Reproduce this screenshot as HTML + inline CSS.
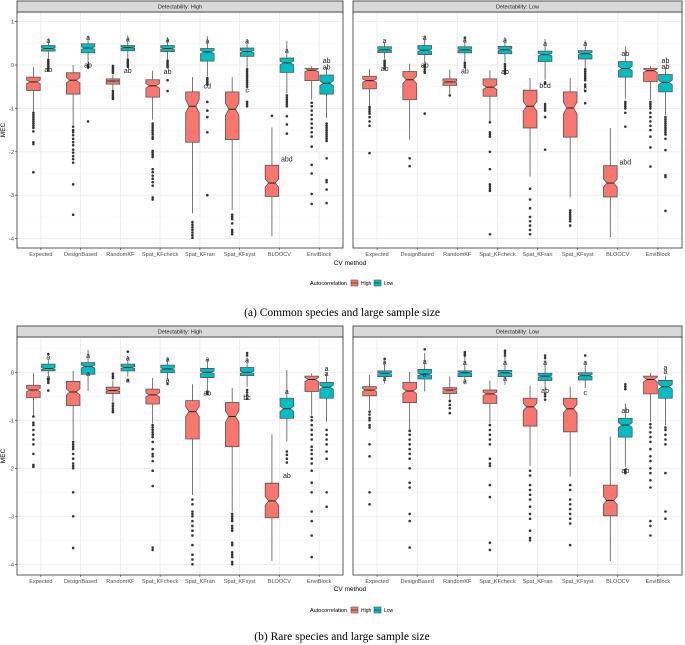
<!DOCTYPE html>
<html><head><meta charset="utf-8"><style>
html,body{margin:0;padding:0;background:#fff;}
svg{display:block;font-family:"Liberation Sans",sans-serif;}
.cap{font-family:"Liberation Serif",serif;font-size:11.5px;fill:#000;}
</style></head><body>
<svg id="chart" width="685" height="645" viewBox="0 0 685 645" xmlns="http://www.w3.org/2000/svg">
<g id="root"></g>
</svg>
<script>
const categories=["Expected","DesignBased","RandomKF","Spat_KFcheck","Spat_KFran","Spat_KFsyst","BLOOCV","EnviBlock"];
const groups=["High","Low"];
const yTicksTop=[1,0,-1,-2,-3,-4];
const yTicksBottom=[0,-1,-2,-3,-4];
// [whiskerLow,q1,median,q3,whiskerHigh]
const aHighHi=[[-1.07,-0.59,-0.39,-0.28,-0.05],[-1.38,-0.67,-0.35,-0.18,0],[-0.58,-0.44,-0.37,-0.32,-0.22],[-1.26,-0.74,-0.48,-0.34,-0.13],[-3.42,-1.78,-0.95,-0.62,-0.28],[-3.34,-1.72,-1.02,-0.62,-0.28],[-3.95,-3.03,-2.72,-2.31,-1.44],[-0.8,-0.36,-0.12,-0.08,-0.03]];
const aHighLo=[[0.16,0.32,0.38,0.45,0.62],[0.02,0.28,0.39,0.49,0.68],[0.14,0.33,0.4,0.45,0.68],[0.12,0.31,0.38,0.45,0.64],[-0.26,0.09,0.3,0.38,0.66],[-0.07,0.2,0.31,0.39,0.6],[-0.65,-0.17,0.05,0.16,0.55],[-1.22,-0.67,-0.42,-0.23,-0.05]];
const aHighHiOut=[[-1.1,-1.15,-1.2,-1.25,-1.3,-1.35,-1.4,-1.45,-1.53,-1.78,-1.82,-2.47],[-1.42,-1.5,-1.55,-1.62,-1.7,-1.78,-1.85,-1.95,-2.02,-2.1,-2.17,-2.25,-2.75,-3.45],[-0.02,-0.06,-0.1,-0.14,-0.18,-0.6,-0.65,-0.7,-0.74,-0.78],[-1.35,-1.4,-1.45,-1.5,-1.55,-1.6,-1.66,-1.7,-1.98,-2.02,-2.07,-2.12,-2.4,-2.47,-2.55,-2.62,-2.7,-2.78,-3.05,-3.1],[-3.62,-3.68,-3.74,-3.8,-3.86,-3.92,-3.98],[-3.45,-3.5,-3.55,-3.65,-3.8,-3.85,-3.9],[-1.17],[-0.87,-0.95,-1.05,-1.15,-1.25,-1.35,-1.45,-1.55,-1.65,-1.88,-2.3,-2.5,-2.97,-3.2]];
const aHighLoOut=[[0.12,0.08,0.04,0,-0.04,-0.08,-0.12],[0,-0.03,-0.06,-1.3],[0.12,0.08,0.04,0,-0.04],[0.1,0.06,0.02,-0.02,-0.05,-0.35,-0.6],[-0.3,-0.34,-0.38,-0.42,-0.45,-0.85,-1.05,-1.2,-1.55,-3.0],[-0.1,-0.15,-0.2,-0.25,-0.3,-0.35,-0.4,-0.45,-0.5,-0.85,-0.9,-0.95],[-0.7,-0.75,-0.8,-0.85,-0.9,-0.95,-1.18,-1.37,-1.58],[-1.35,-1.4,-1.45,-1.5,-1.55,-1.6,-1.65,-1.7,-1.75,-2.15,-2.65,-2.7,-2.87,-3.18]];
const aHighLabels=[[0,1,0.56,"a"],[0,1,-0.1,"ab"],[1,1,0.63,"a"],[1,1,0.0,"ab"],[2,1,0.6,"a"],[2,1,-0.13,"ab"],[3,1,0.58,"a"],[3,1,-0.15,"ab"],[4,1,0.55,"a"],[4,1,-0.48,"cd"],[5,1,0.55,"a"],[5,1,-0.58,"c"],[6,1,0.33,"a"],[6,1,-2.17,"abd"],[7,1,0.1,"ab"],[7,1,-0.05,"ab"]];

const aLowHi=[[-0.94,-0.55,-0.36,-0.26,-0.09],[-1.72,-0.8,-0.34,-0.15,0.03],[-0.68,-0.47,-0.39,-0.32,-0.11],[-1.3,-0.72,-0.51,-0.32,-0.12],[-2.57,-1.45,-0.95,-0.58,-0.3],[-3.05,-1.66,-0.99,-0.62,-0.3],[-3.97,-3.04,-2.72,-2.32,-1.45],[-0.8,-0.38,-0.13,-0.08,-0.03]];
const aLowLo=[[0.14,0.29,0.35,0.42,0.53],[0.03,0.24,0.34,0.45,0.68],[0.08,0.28,0.35,0.42,0.62],[0.06,0.26,0.35,0.43,0.64],[-0.34,0.08,0.24,0.32,0.6],[-0.11,0.14,0.26,0.33,0.57],[-0.78,-0.28,-0.08,0.08,0.43],[-1.15,-0.62,-0.4,-0.22,-0.05]];
const aLowHiOut=[[-0.97,-1.02,-1.07,-1.12,-1.2,-1.3,-1.4,-2.03],[-2.15,-2.33],[-0.7],[-1.32,-1.55,-1.6,-1.65,-2.0,-2.4,-2.75,-2.8,-2.85,-2.9,-3.9],[-2.85,-3.1,-3.3,-3.5,-3.6,-3.7,-3.8,-3.9],[-3.35,-3.4,-3.45,-3.5,-3.55,-3.6,-3.7],[],[-0.85,-0.9,-0.95,-1.0,-1.1,-1.2,-1.3,-1.4,-1.5,-1.65,-1.9,-2.34]];
const aLowLoOut=[[0.1,0.06,0.02,-0.02,-0.08],[0,-0.05,-0.1,-0.15,-0.18,-1.12],[0.63,0.05,0,-0.05],[0.02,-0.03,-0.08,-0.13,-0.18,-0.2],[-0.4,-0.43,-0.9,-0.95,-1.0,-1.05,-1.2,-1.95],[-0.1,-0.15,-0.2,-0.25,-0.3,-0.35,-0.45,-0.5,-0.6,-0.88],[-0.85,-0.9,-0.95,-1.0,-1.1,-1.42],[-1.2,-1.25,-1.3,-1.35,-1.4,-1.45,-1.5,-1.55,-1.6,-1.7,-1.96,-2.54,-2.58,-3.36]];
const aLowLabels=[[0,1,0.56,"a"],[0,1,-0.08,"ab"],[1,1,0.63,"a"],[1,1,0.0,"ab"],[2,1,0.58,"a"],[2,1,-0.14,"ab"],[3,1,0.58,"a"],[3,1,-0.15,"ab"],[4,1,0.5,"a"],[4,1,-0.47,"bcd"],[5,1,0.5,"a"],[5,1,-0.55,"c"],[6,1,0.27,"ab"],[6,1,-2.23,"abd"],[7,1,0.1,"ab"],[7,1,-0.04,"ab"]];

const bHighHi=[[-0.89,-0.53,-0.37,-0.27,-0.02],[-1.41,-0.69,-0.41,-0.19,0.03],[-0.61,-0.44,-0.38,-0.31,-0.17],[-1.06,-0.66,-0.47,-0.35,-0.12],[-2.56,-1.39,-0.82,-0.59,-0.25],[-2.9,-1.55,-0.92,-0.63,-0.33],[-3.93,-3.03,-2.68,-2.31,-1.29],[-0.89,-0.4,-0.15,-0.08,-0.02]];
const bHighLo=[[-0.09,0.03,0.08,0.17,0.28],[-0.39,-0.04,0.12,0.2,0.47],[-0.09,0.03,0.1,0.17,0.34],[-0.16,-0.01,0.07,0.15,0.31],[-0.37,-0.11,0,0.08,0.28],[-0.3,-0.07,0,0.1,0.3],[-1.44,-0.96,-0.76,-0.54,0.05],[-1.03,-0.54,-0.31,-0.21,-0.02]];
const bHighHiOut=[[-0.92,-1.05,-1.1,-1.2,-1.3,-1.4,-1.5,-1.7,-1.93,-1.97],[-1.45,-1.5,-1.55,-1.6,-1.7,-1.8,-1.9,-1.95,-2.0,-2.5,-3.0,-3.66],[-0.03,-0.08,-0.12,-0.65,-0.7,-0.75,-0.8,-0.83],[-1.1,-1.15,-1.2,-1.25,-1.3,-1.35,-1.45,-1.6,-1.7,-1.75,-1.85,-2.05,-2.37,-3.65,-3.7],[-2.65,-2.75,-2.9,-2.95,-3.0,-3.1,-3.2,-3.3,-3.4,-3.6,-3.8,-3.9,-4.0],[-2.95,-3.0,-3.05,-3.1,-3.2,-3.25,-3.3,-3.55,-3.6,-3.75,-3.8,-3.85,-3.95,-4.0],[],[-0.93,-1.0,-1.1,-1.2,-1.3,-1.4,-1.55,-1.62,-1.7,-1.8,-1.9,-2.05,-2.3,-2.5,-2.9,-3.1,-3.4,-3.85]];
const bHighLoOut=[[0.38,-0.13,-0.18,-0.22,-0.38],[],[0.43,-0.17],[-0.24],[-0.4,-0.43,-0.45],[0.4,0.35,-0.37,-0.42,-0.48,-0.55],[-1.65,-1.72,-1.8,-1.88],[-1.2,-1.3,-1.4,-1.5,-1.65,-1.8,-2.5,-2.8]];
const bHighLabels=[[0,1,0.32,"a"],[0,1,-0.11,"a"],[1,1,0.35,"a"],[1,1,-0.02,"a"],[2,1,0.3,"a"],[2,1,-0.16,"a"],[3,1,0.28,"a"],[3,1,-0.16,"a"],[4,1,0.28,"a"],[4,1,-0.43,"ab"],[5,1,0.26,"a"],[5,1,-0.52,"bc"],[6,1,-0.4,"a"],[6,1,-2.15,"ab"],[7,1,0.08,"a"],[7,1,-0.03,"a"]];

const bLowHi=[[-0.78,-0.49,-0.37,-0.3,-0.06],[-1.2,-0.63,-0.39,-0.21,0.01],[-0.58,-0.44,-0.37,-0.32,-0.09],[-1.06,-0.65,-0.45,-0.37,-0.17],[-1.95,-1.12,-0.72,-0.54,-0.28],[-2.17,-1.24,-0.76,-0.54,-0.3],[-3.93,-2.99,-2.67,-2.35,-1.34],[-1.03,-0.45,-0.15,-0.08,-0.02]];
const bLowLo=[[-0.23,-0.09,-0.02,0.03,0.24],[-0.4,-0.14,-0.04,0.06,0.4],[-0.25,-0.09,-0.01,0.03,0.33],[-0.26,-0.09,-0.01,0.04,0.33],[-0.37,-0.17,-0.08,-0.02,0.27],[-0.33,-0.16,-0.07,-0.01,0.22],[-1.97,-1.35,-1.1,-0.96,-0.65],[-1.1,-0.54,-0.3,-0.17,-0.07]];
const bLowHiOut=[[-0.82,-0.88,-0.95,-1.0,-1.1,-1.15,-1.5,-1.75,-2.5,-2.75],[-1.22,-1.3,-1.4,-1.5,-1.6,-1.7,-1.8,-2.0,-2.3,-2.4,-2.95,-3.1,-3.65],[-0.6,-0.68,-0.75,-0.85],[-1.1,-1.2,-1.3,-1.4,-1.5,-1.8,-1.9,-1.95,-2.35,-2.6,-3.55,-3.7],[-2.05,-2.15,-2.35,-2.45,-2.55,-2.65,-2.8,-2.95,-3.05,-3.3,-3.45,-3.5],[-2.35,-2.45,-2.65,-2.75,-2.85,-2.95,-3.05,-3.15,-3.6],[],[-1.08,-1.15,-1.25,-1.35,-1.45,-1.6,-1.75,-1.85,-2.0,-2.1,-2.25,-2.4,-3.1,-3.2,-3.4]];
const bLowLoOut=[[0.28],[0.48],[0.35,0.38,0.42],[0.35,0.4,0.45],[0.3,0.35,-0.45,-0.5,-0.57],[0.35],[-0.25,-0.3,-0.35,-2.03,-2.07,-2.1],[-1.15,-1.2,-1.3,-1.4,-1.5,-2.1,-2.9,-3.05]];
const bLowLabels=[[0,1,0.21,"a"],[0,1,-0.13,"a"],[1,1,0.22,"a"],[1,1,-0.05,"a"],[2,1,0.2,"a"],[2,1,-0.18,"a"],[3,1,0.2,"a"],[3,1,-0.13,"a"],[4,1,0.2,"a"],[4,1,-0.38,"ab"],[5,1,0.2,"a"],[5,1,-0.42,"c"],[6,1,-0.8,"ab"],[6,1,-2.05,"ab"],[7,1,0.1,"a"],[7,1,0.02,"a"]];

const NS="http://www.w3.org/2000/svg";
const root=document.getElementById("root");
const COL=["#F8766D","#00BFC4"];
function mk(tag,attrs,parent,text){const e=document.createElementNS(NS,tag);for(const k in attrs)e.setAttribute(k,attrs[k]);if(text!==undefined)e.textContent=text;(parent||root).appendChild(e);return e;}

function panel(cfg){
  const g=mk("g",{});
  
  
  const xs=i=>cfg.x0+(i+0.6)*(cfg.x1-cfg.x0)/8.2;
  const ys=v=>cfg.zero-cfg.unit*v;
  const step=(cfg.x1-cfg.x0)/8.2;
  // grid
  for(let v=cfg.ticks[0]+0.5;v>-4.5;v-=0.5){const y=ys(v);if(y<cfg.yTop||y>cfg.yBot)continue;
    const major=Math.abs(v-Math.round(v))<1e-6;
    mk("line",{x1:cfg.x0,x2:cfg.x1,y1:y,y2:y,stroke:major?"#ebebeb":"#f5f5f5","stroke-width":major?0.9:0.5},g);}
  categories.forEach((c,i)=>mk("line",{x1:xs(i),x2:xs(i),y1:cfg.yTop,y2:cfg.yBot,stroke:"#ebebeb","stroke-width":0.9},g));
  // boxes
  [cfg.hi,cfg.lo].forEach((stats,gi)=>{
    const outs=gi===0?cfg.hiOut:cfg.loOut;
    stats.forEach((s,i)=>{
      const cx=xs(i)+(gi===0?-1:1)*0.1875*step;
      const hw=0.17*step;
      const bg=mk("g",{},g);
      
      
      mk("line",{x1:cx,x2:cx,y1:ys(s[4]),y2:ys(s[3]),stroke:"#555","stroke-width":0.8},bg);
      mk("line",{x1:cx,x2:cx,y1:ys(s[1]),y2:ys(s[0]),stroke:"#555","stroke-width":0.8},bg);
      const iqr=s[3]-s[1];let n=0.13*iqr;
      const nHi=Math.min(s[2]+n,s[3]),nLo=Math.max(s[2]-n,s[1]);
      const L=cx-hw,R=cx+hw,ind=hw*0.5;
      const d=`M${L},${ys(s[3])}L${R},${ys(s[3])}L${R},${ys(nHi)}L${R-ind},${ys(s[2])}L${R},${ys(nLo)}L${R},${ys(s[1])}L${L},${ys(s[1])}L${L},${ys(nLo)}L${L+ind},${ys(s[2])}L${L},${ys(nHi)}Z`;
      mk("path",{d:d,fill:COL[gi],stroke:"#555","stroke-width":0.8},bg);
      mk("line",{x1:L+ind,x2:R-ind,y1:ys(s[2]),y2:ys(s[2]),stroke:"#222","stroke-width":1},bg);
      outs[i].forEach(v=>{const p=mk("circle",{cx:cx,cy:ys(v),r:1.3,fill:"#333"},bg);
        
        });
    });
  });
  cfg.labels.forEach(l=>{
    const cx=xs(l[0])+(l[1]===0?-1:1)*0.1875*step;
    const t=mk("text",{x:cx,y:ys(l[2])+2.5,"font-size":"7px","text-anchor":"middle",fill:"#222"},g,l[3]);
    
    
  });
  // border
  mk("rect",{x:cfg.x0,y:cfg.yTop,width:cfg.x1-cfg.x0,height:cfg.yBot-cfg.yTop,fill:"none",stroke:"#333","stroke-width":0.8},g);
  // strip
  const st=mk("rect",{x:cfg.x0,y:cfg.yTop-11,width:cfg.x1-cfg.x0,height:11,fill:"#d9d9d9",stroke:"#333","stroke-width":0.8},g);
  
  
  const sl=mk("text",{x:(cfg.x0+cfg.x1)/2,y:cfg.yTop-3.5,"font-size":"5.5px","text-anchor":"middle",fill:"#1a1a1a"},g,cfg.strip);
  
  
  // x labels
  categories.forEach((c,i)=>{
    mk("line",{x1:xs(i),x2:xs(i),y1:cfg.yBot,y2:cfg.yBot+2,stroke:"#333","stroke-width":0.6},g);
    const t=mk("text",{x:xs(i),y:cfg.yBot+8,"font-size":"5.6px","text-anchor":"middle",fill:"#4d4d4d"},g,c);
    
    
  });
  if(cfg.yLabels){
    cfg.ticks.forEach(v=>{
      mk("line",{x1:cfg.x0-2,x2:cfg.x0,y1:ys(v),y2:ys(v),stroke:"#333","stroke-width":0.6},g);
      const t=mk("text",{x:cfg.x0-3,y:ys(v)+2,"font-size":"5.6px","text-anchor":"end",fill:"#4d4d4d"},g,String(v));
      
      
    });
    const yt=mk("text",{x:5,y:(cfg.yTop+cfg.yBot)/2,"font-size":"6.5px","text-anchor":"middle",fill:"#000",transform:`rotate(-90 5 ${(cfg.yTop+cfg.yBot)/2})`},g,"MEC");
    
    
  }
}
function legendAndCaption(yAxisTitle,yLegend,yCap,caption){
  const t=mk("text",{x:350,y:yAxisTitle,"font-size":"6.5px","text-anchor":"middle",fill:"#000"},root,"CV method");
  
  
  const lg=mk("g",{});
  
  
  mk("text",{x:347,y:yLegend+2,"font-size":"5.5px","text-anchor":"end",fill:"#000"},lg,"Autocorrelation");
  [["High",351,"#F8766D"],["Low",374,"#00BFC4"]].forEach(k=>{
    const e=mk("g",{},lg);
    
    
    mk("rect",{x:k[1],y:yLegend-3,width:7,height:6,fill:k[2],stroke:"#555","stroke-width":0.6},e);
    mk("line",{x1:k[1],x2:k[1]+7,y1:yLegend,y2:yLegend,stroke:"#222","stroke-width":0.6},e);
    mk("text",{x:k[1]+10,y:yLegend+2,"font-size":"5px",fill:"#000"},e,k[0]);
  });
  const c=mk("text",{x:342,y:yCap,"text-anchor":"middle",class:"cap"},root,caption);
  
  
}
panel({name:"panel-a-high",x0:17,x1:343,yTop:12,yBot:248,zero:65,unit:43.4,ticks:yTicksTop,hi:aHighHi,lo:aHighLo,hiOut:aHighHiOut,loOut:aHighLoOut,labels:aHighLabels,strip:"Detectability: High",yLabels:true});
panel({name:"panel-a-low",x0:353,x1:682,yTop:12,yBot:248,zero:65,unit:43.4,ticks:yTicksTop,hi:aLowHi,lo:aLowLo,hiOut:aLowHiOut,loOut:aLowLoOut,labels:aLowLabels,strip:"Detectability: Low",yLabels:false});
legendAndCaption(265,283,316,"(a) Common species and large sample size");
panel({name:"panel-b-high",x0:17,x1:343,yTop:337,yBot:575,zero:372.3,unit:48,ticks:yTicksBottom,hi:bHighHi,lo:bHighLo,hiOut:bHighHiOut,loOut:bHighLoOut,labels:bHighLabels,strip:"Detectability: High",yLabels:true});
panel({name:"panel-b-low",x0:353,x1:682,yTop:337,yBot:575,zero:372.3,unit:48,ticks:yTicksBottom,hi:bLowHi,lo:bLowLo,hiOut:bLowHiOut,loOut:bLowLoOut,labels:bLowLabels,strip:"Detectability: Low",yLabels:false});
legendAndCaption(591,610,640,"(b) Rare species and large sample size");
</script>
</body></html>
